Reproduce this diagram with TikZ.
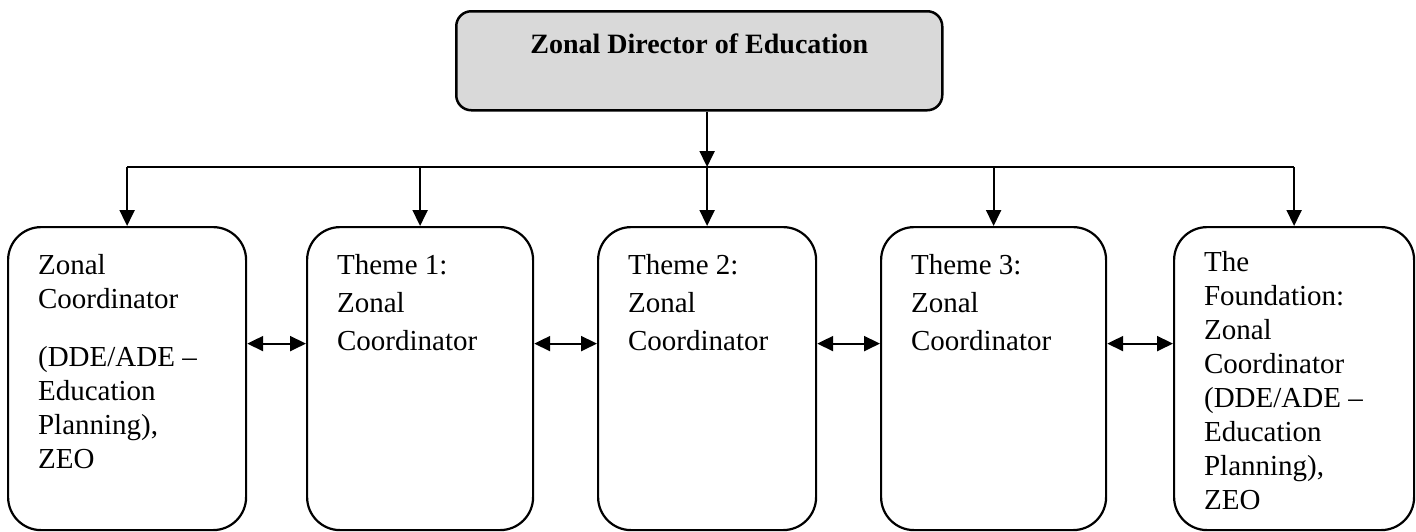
\documentclass[tikz,border=0pt]{standalone}
\usepackage{fontspec}
\setmainfont{Liberation Serif}
\usetikzlibrary{arrows.meta,calc}

\begin{document}
\begin{tikzpicture}[x=1pt,y=-1pt,
chief/.style={draw,line width=2.5pt,rounded corners=15pt,fill=black!15,minimum width=486pt,text height=19pt,text depth=34pt,inner ysep=23pt,font=\fontsize{28}{34}\selectfont\bfseries,anchor=north west},
unit/.style={draw,line width=2.2pt,rounded corners=33pt,anchor=north west,inner xsep=30pt,inner ysep=0pt,font=\fontsize{29}{34}\selectfont},
wide/.style={font=\fontsize{29}{38}\selectfont},
bus/.style={line width=2pt},
feed/.style={line width=2pt,-{Triangle[length=16pt,width=15pt]}},
peer/.style={line width=2pt,{Triangle[length=16pt,width=15pt]}-{Triangle[length=16pt,width=15pt]}}]
	\def\hh{303pt}
	\def\yy{35pt}
	\useasboundingbox (0,0) rectangle (1416,531);

	\node[chief] at (455,10) (top) {Zonal Director of Education};

	\node[unit] at (7,226) (b1) {\parbox[t][\hh][t]{178pt}{\raggedright\vspace*{27pt}Zonal\\Coordinator\\[24pt](DDE/ADE --\\Education\\Planning),\\ZEO}};
	\node[unit,wide] at (306,226) (b2) {\parbox[t][\hh][t]{166pt}{\raggedright\vspace*{27pt}Theme 1:\\Zonal\\Coordinator}};
	\node[unit,wide] at (597,226) (b3) {\parbox[t][\hh][t]{158pt}{\raggedright\vspace*{27pt}Theme 2:\\Zonal\\Coordinator}};
	\node[unit,wide] at (880,226) (b4) {\parbox[t][\hh][t]{165pt}{\raggedright\vspace*{27pt}Theme 3:\\Zonal\\Coordinator}};
	\node[unit] at (1173,226) (b5) {\parbox[t][\hh][t]{180pt}{\raggedright\vspace*{24pt}The\\Foundation:\\Zonal\\Coordinator\\(DDE/ADE --\\Education\\Planning),\\ZEO}};

	%branches
	\coordinate (bus) at (0,167);
	\draw[bus] (b1.north |- bus) -- (b5.north |- bus);
	\draw[feed] (top.south -| b3.north) -- (b3.north |- bus);
	\foreach \i in {1,...,5} {
		\draw[feed] (b\i.north |- bus) -- (b\i.north);
	}
	%links between units
	\foreach \i/\j in {1/2,2/3,3/4,4/5} {
		\draw[peer] ([yshift=\yy]b\i.east) -- ([yshift=\yy]b\j.west);
	}
\end{tikzpicture}
\end{document}
